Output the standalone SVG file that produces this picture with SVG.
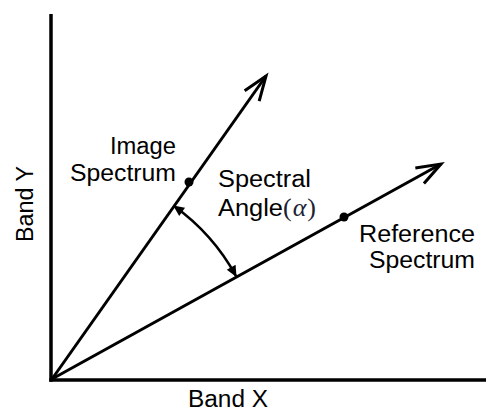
<svg xmlns="http://www.w3.org/2000/svg" width="486" height="413" viewBox="0 0 486 413">
<defs>
<style>
.ax{stroke:#000;stroke-width:3.5;fill:none}
.vec{stroke:#000;stroke-width:3;fill:none}
.arc{stroke:#000;stroke-width:2.6;fill:none}
.t{font-family:"Liberation Sans",Arial,sans-serif;font-size:23px;fill:#000}
.s{font-family:"Liberation Serif","Times New Roman",serif;font-size:26px;fill:#1c2233}
</style>
<marker id="open" viewBox="-30 -12 34 24" refX="0" refY="0" markerWidth="34" markerHeight="24" markerUnits="userSpaceOnUse" orient="auto" overflow="visible">
<path d="M-24.4,-8.9 L0,0 L-24.4,8.9" fill="none" stroke="#000" stroke-width="3" stroke-linejoin="miter"/>
</marker>
<marker id="tri" viewBox="-12 -6 14 12" refX="0" refY="0" markerWidth="14" markerHeight="12" markerUnits="userSpaceOnUse" orient="auto-start-reverse" overflow="visible">
<path d="M1,0 L-10,-5 L-10,5 Z" fill="#000"/>
</marker>
</defs>
<rect width="486" height="413" fill="#fff"/>
<g id="axes">
<line class="ax" x1="51" y1="14" x2="51" y2="381.7"/>
<line class="ax" x1="49.3" y1="380" x2="486" y2="380"/>
</g>
<g id="connectors">
<line id="image-vector" class="vec" x1="52" y1="379" x2="266" y2="76" marker-end="url(#open)"/>
<line id="reference-vector" class="vec" x1="52" y1="379" x2="441" y2="164" marker-end="url(#open)"/>
<path id="angle-arc" class="arc" d="M174,206 A211,211 0 0 1 236,276" marker-start="url(#tri)" marker-end="url(#tri)"/>
</g>
<g id="image-spectrum">
<circle cx="189" cy="182" r="4.5" fill="#000"/>
<text class="t" x="110" y="154" textLength="66" lengthAdjust="spacingAndGlyphs">Image</text>
<text class="t" x="70" y="181" textLength="106" lengthAdjust="spacingAndGlyphs">Spectrum</text>
</g>
<g id="reference-spectrum">
<circle cx="344" cy="217" r="4.5" fill="#000"/>
<text class="t" x="359" y="242" textLength="116" lengthAdjust="spacingAndGlyphs">Reference</text>
<text class="t" x="369" y="268" textLength="106" lengthAdjust="spacingAndGlyphs">Spectrum</text>
</g>
<g id="spectral-angle">
<text class="t" x="218" y="187" textLength="93" lengthAdjust="spacingAndGlyphs">Spectral</text>
<text x="218" y="216"><tspan class="t" textLength="65" lengthAdjust="spacingAndGlyphs">Angle</tspan><tspan class="s" x="283">(</tspan><tspan class="s" font-style="italic" font-size="28" dx="1">α</tspan><tspan class="s" dx="1">)</tspan></text>
</g>
<g id="band-x">
<text class="t" x="188" y="407" textLength="80" lengthAdjust="spacingAndGlyphs">Band X</text>
</g>
<g id="band-y">
<text class="t" transform="translate(33,242) rotate(-90)" x="0" y="0" textLength="76" lengthAdjust="spacingAndGlyphs">Band Y</text>
</g>
</svg>
